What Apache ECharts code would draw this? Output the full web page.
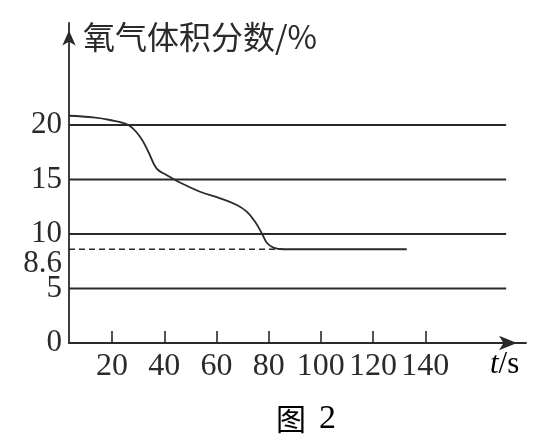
<!DOCTYPE html>
<html>
<head>
<meta charset="utf-8">
<script src="https://cdn.jsdelivr.net/npm/echarts@6/dist/echarts.min.js"></script>
<style>html,body{margin:0;padding:0;background:#fff;}#c{width:550px;height:445px;}</style>
</head>
<body>
<div id="c"></div>
<script>
// ---- data ----
const curveTime = [3.5, 12.8, 19.2, 26.2, 30.7, 33.9, 37.1, 41, 45.4, 53.7, 61.4, 67.8, 71.6, 74.8, 77.4, 79.3, 81.8, 85.6, 100, 132.9];
const curveO2   = [20.85, 20.7, 20.46, 20.0, 18.93, 17.55, 16.0, 15.4, 14.8, 13.88, 13.27, 12.66, 12.05, 11.13, 10.06, 9.2, 8.75, 8.6, 8.6, 8.6];
const xTicks = [20, 40, 60, 80, 100, 120, 140];
const yTicks = [0, 5, 8.6, 10, 15, 20];
const gridLevels = [5, 10, 15, 20];
const gridRange = [3.5, 171];
const dashLevel = 8.6;
const dashRange = [3.5, 85.6];
const yTitle = '氧气体积分数/%';
const xTitle = 't/s';
const figCaption = '图 2';

const ink = '#2a2a2a';
const serif = '"Liberation Serif","DejaVu Serif",serif';
const cjk = '"Noto Sans CJK SC","Noto Sans",sans-serif';

const series = [];
gridLevels.forEach(function (lv) {
  series.push({
    type: 'line', silent: true, symbol: 'none', z: 1,
    data: [[gridRange[0], lv], [gridRange[1], lv]],
    lineStyle: { color: ink, width: 1.9 }
  });
});
series.push({
  type: 'line', silent: true, symbol: 'none', z: 2,
  data: [[dashRange[0], dashLevel], [dashRange[1], dashLevel]],
  lineStyle: { color: ink, width: 1.4, type: [6, 4] }
});
series.push({
  type: 'line', silent: true, symbol: 'none', z: 3,
  smooth: 0.4,
  data: curveTime.map(function (t, i) { return [t, curveO2[i]]; }),
  lineStyle: { color: ink, width: 1.8 }
});

const chart = echarts.init(document.getElementById('c'), null, { renderer: 'canvas' });
chart.setOption({
  animation: false,
  backgroundColor: '#fff',
  grid: { left: 69, right: 24, top: 23, bottom: 102, containLabel: false },
  xAxis: {
    type: 'value', min: 3.5, max: 178.6,
    splitLine: { show: false },
    axisLine: { show: true, lineStyle: { color: ink, width: 1.8 },
      symbol: ['none', 'arrow'], symbolSize: [11, 18], symbolOffset: [0, -9] },
    axisTick: { show: true, inside: true, length: 12, customValues: xTicks,
      lineStyle: { color: ink, width: 1.6 } },
    axisLabel: { show: true, customValues: xTicks, margin: 8,
      fontFamily: serif, fontSize: 32, color: ink }
  },
  yAxis: {
    type: 'value', min: 0, max: 29.36,
    splitLine: { show: false },
    axisLine: { show: true, lineStyle: { color: ink, width: 1.8 },
      symbol: ['none', 'arrow'], symbolSize: [10, 15], symbolOffset: [0, -7.5] },
    axisTick: { show: false },
    axisLabel: { show: true, customValues: yTicks, margin: 7,
      fontFamily: serif, fontSize: 31, color: ink,
      formatter: function (v) { return v === 8.6 ? '{d|8.6}' : String(v); },
      rich: { d: { fontFamily: serif, fontSize: 31, color: ink, padding: [30, 0, 0, 0] } }
    }
  },
  graphic: [
    { type: 'text', left: 83, top: 21, silent: true,
      style: { text: yTitle, font: '32px ' + cjk, fill: ink } },
    { type: 'text', left: 490, top: 349, silent: true,
      style: { text: '{i|t}{n|/s}', rich: {
        i: { fontFamily: serif, fontStyle: 'italic', fontSize: 31, color: ink },
        n: { fontFamily: serif, fontSize: 31, color: ink } } } },
    { type: 'text', left: 276, top: 402, silent: true,
      style: { text: '{c|图}{n|2}', rich: {
        c: { fontFamily: cjk, fontSize: 30, color: ink, padding: [0, 13, 0, 0] },
        n: { fontFamily: serif, fontSize: 34, color: ink } } } }
  ],
  series: series
});
</script>
</body>
</html>
